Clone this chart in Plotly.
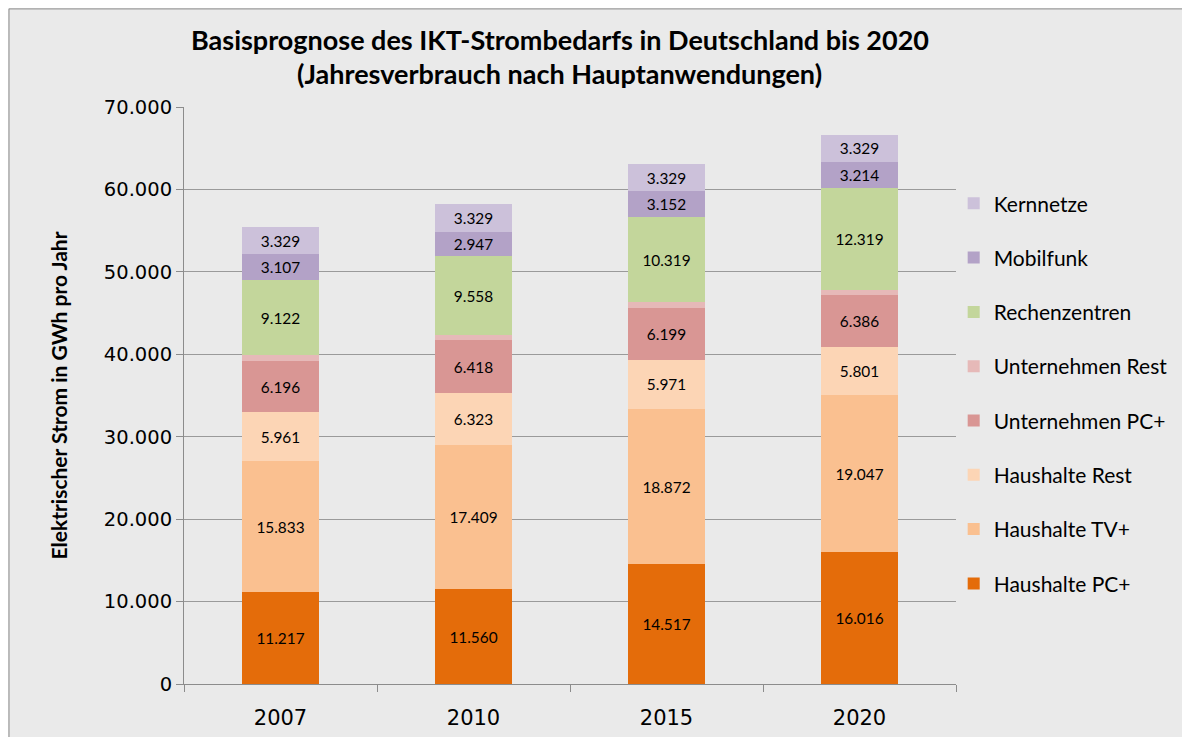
import plotly.graph_objects as go

years = ["2007", "2010", "2015", "2020"]

haushalte_pc = [11217, 11560, 14517, 16016]
haushalte_tv = [15833, 17409, 18872, 19047]
haushalte_rest = [5961, 6323, 5971, 5801]
unternehmen_pc = [6196, 6418, 6199, 6386]
unternehmen_rest = [700, 650, 750, 550]
rechenzentren = [9122, 9558, 10319, 12319]
mobilfunk = [3107, 2947, 3152, 3214]
kernnetze = [3329, 3329, 3329, 3329]

series = [
    ("Haushalte PC+", haushalte_pc, "#e46c0a", True),
    ("Haushalte TV+", haushalte_tv, "#fac090", True),
    ("Haushalte Rest", haushalte_rest, "#fcd5b5", True),
    ("Unternehmen PC+", unternehmen_pc, "#d99694", True),
    ("Unternehmen Rest", unternehmen_rest, "#e6b9b8", False),
    ("Rechenzentren", rechenzentren, "#c3d69b", True),
    ("Mobilfunk", mobilfunk, "#b3a2c7", True),
    ("Kernnetze", kernnetze, "#ccc1da", True),
]

BODY = "Lato, Carlito, Calibri, sans-serif"
TICK = "DejaVu Sans, Verdana, sans-serif"

fig = go.Figure()
for i, (name, vals, color, labelled) in enumerate(series):
    fig.add_trace(go.Bar(
        x=years, y=vals, name=name, legendgroup=name, legendrank=100 - i,
        marker=dict(color=color, line=dict(width=0)),
        text=vals if labelled else None,
        texttemplate="%{y:,}" if labelled else None,
        textposition="inside", insidetextanchor="middle",
        textfont=dict(family=BODY, size=16, color="#000000"),
        hoverinfo="skip",
    ))

# outer chart frame
fig.add_shape(type="rect", xref="paper", yref="paper",
              x0=-0.2267, y0=-0.2, x1=1.4, y1=1.170,
              line=dict(color="#8c8c8c", width=1), fillcolor="rgba(0,0,0,0)", layer="below")

# two-line bold title
fig.add_annotation(xref="paper", yref="paper", x=0.487, y=1.1178, yanchor="middle",
                   text="<b>Basisprognose des IKT-Strombedarfs in Deutschland bis 2020</b>",
                   showarrow=False, font=dict(family=BODY, size=27, color="#000000"))
fig.add_annotation(xref="paper", yref="paper", x=0.487, y=1.0589, yanchor="middle",
                   text="<b>(Jahresverbrauch nach Hauptanwendungen)</b>",
                   showarrow=False, font=dict(family=BODY, size=27, color="#000000"))

fig.update_layout(
    barmode="stack",
    bargap=0.6,
    separators=",.",
    width=1190, height=737,
    paper_bgcolor="#eaeaea",
    plot_bgcolor="#eaeaea",
    margin=dict(l=176, r=242, t=99, b=61, autoexpand=False),
    legend=dict(
        traceorder="grouped",
        tracegroupgap=24,
        x=0.997, xanchor="left", y=0.868, yanchor="top",
        font=dict(family=BODY, size=21, color="#000000"),
        bgcolor="rgba(0,0,0,0)",
        itemwidth=30,
    ),
    uniformtext=dict(mode="show", minsize=8),
)

fig.update_yaxes(
    range=[0, 70000], dtick=10000, tickformat=",",
    showgrid=True, gridcolor="#9a9a9a", gridwidth=1,
    showline=True, linecolor="#8c8c8c", linewidth=1,
    ticks="outside", ticklen=7, tickcolor="#8c8c8c",
    tickfont=dict(family=TICK, size=19.5, color="#000000"),
    title=dict(text="<b>Elektrischer Strom in GWh pro Jahr</b>",
               font=dict(family=BODY, size=21, color="#000000"), standoff=30),
    zeroline=False, automargin=False,
)
fig.update_xaxes(
    showline=True, linecolor="#8c8c8c", linewidth=1,
    ticks="outside", ticklen=7, tickcolor="#8c8c8c", tickson="boundaries",
    tickfont=dict(family=TICK, size=21, color="#000000"),
    ticklabelstandoff=15,
    automargin=False,
)

fig.write_html("out.html")
